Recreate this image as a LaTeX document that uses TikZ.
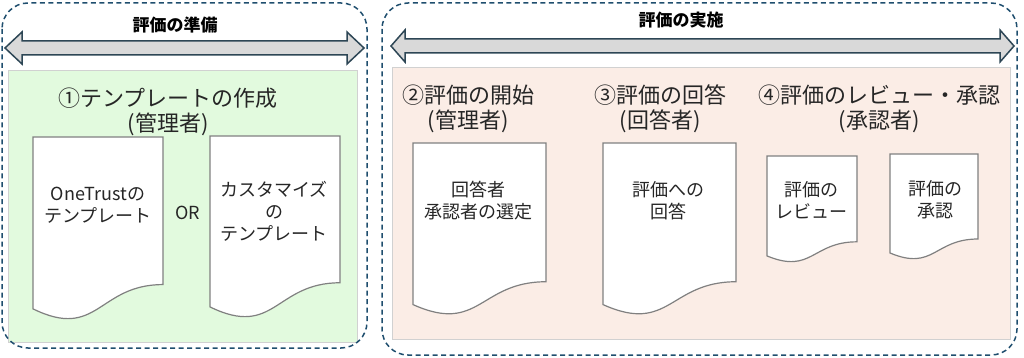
\documentclass[tikz,border=0pt]{standalone}
\usepackage{fontspec}
\newfontfamily\jp{Noto Sans CJK JP}
\definecolor{dashc}{RGB}{31,78,110}
\definecolor{arrc}{RGB}{45,70,85}
\definecolor{grn}{RGB}{226,250,222}
\definecolor{pch}{RGB}{251,237,230}
\tikzset{frame/.style={draw=dashc,dashed,dash pattern=on 5pt off 3.5pt,line width=1.5pt,rounded corners=26pt},
  area/.style={draw=black!18,line width=0.8pt},
  barr/.style={draw=arrc,fill=black!15,line width=1.5pt,line join=miter},
  doc/.style={draw=black!50,fill=white,line width=1.2pt},
  hd/.style={font=\jp\bfseries\fontsize{17}{19}\selectfont},
  ttl/.style={align=center,font=\jp\fontsize{22}{25}\selectfont,text=black!85},
  body/.style={align=center,font=\jp\fontsize{18}{22}\selectfont,text=black!85}}
% document shape: x1, x2, top, height
\newcommand\docsh[4]{\draw[doc](#1,#3)--(#2,#3)--(#2,{#3+0.802*#4}) .. controls ({(#1+#2)/2},{#3+0.802*#4}) and ({(#1+#2)/2},{#3+1.107*#4}) .. (#1,{#3+0.934*#4})--cycle;}
% double arrow: x1, x2, y, head length
\newcommand\dblarr[4]{\draw[barr](#1,#3)--({#1+#4},{#3-16})--({#1+#4},{#3-7})--({#2-#4},{#3-7})--({#2-#4},{#3-16})--(#2,#3)--({#2-#4},{#3+16})--({#2-#4},{#3+7})--({#1+#4},{#3+7})--({#1+#4},{#3+16})--cycle;}
\begin{document}
\begin{tikzpicture}[x=1pt,y=-1pt]
\useasboundingbox (0,0) rectangle (1024,358);
% preparation
\fill[grn] (8,70) rectangle (357,342);\draw[area] (8,70) rectangle (357,342);
\draw[frame] (2,3) rectangle (367,348);
\node[hd] (prep) at (175,25) {評価の準備};
\dblarr{5}{364}{48}{17}
\node[ttl] (t1) at (168,112) {①テンプレートの作成\\(管理者)};
\docsh{33}{163}{137}{184}\docsh{210}{340}{136}{183}
\node[body] (d1) at (98,205) {OneTrustの\\テンプレート};
\node[body] (or) at (188,213) {OR};
\node[body] (d2) at (274,211) {カスタマイズ\\の\\テンプレート};
% execution
\fill[pch] (392,67) rectangle (1010,339);\draw[area] (392,67) rectangle (1010,339);
\draw[frame] (382,3) rectangle (1017,355);
\node[hd] (exec) at (681,20) {評価の実施};
\dblarr{391}{1014}{46}{14}
\node[ttl] (t2) at (468,109) {②評価の開始\\(管理者)};
\node[ttl] (t3) at (660,109) {③評価の回答\\(回答者)};
\node[ttl] (t4) at (879,109) {④評価のレビュー・承認\\(承認者)};
\docsh{413}{546}{143}{173}\docsh{603}{736}{143}{173}
\docsh{767}{857}{156}{107}\docsh{890}{978}{154}{106}
\node[body] (d3) at (478,201) {回答者\\承認者の選定};
\node[body] (d4) at (668,201) {評価への\\回答};
\node[body] (d5) at (811,200) {評価の\\レビュー};
\node[body] (d6) at (935,200) {評価の\\承認};
\end{tikzpicture}
\end{document}
